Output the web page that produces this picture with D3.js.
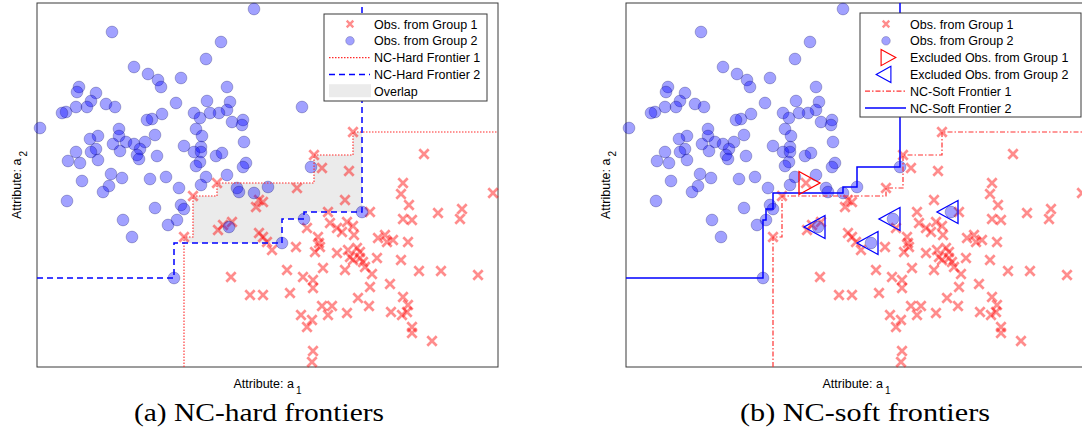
<!DOCTYPE html>
<html>
<head>
<meta charset="utf-8">
<script src="https://cdn.jsdelivr.net/npm/d3@7"></script>
<style>
body { margin: 0; background: #fff; }
text { font-family: "Liberation Sans", Arial, sans-serif; fill: #000; }
</style>
</head>
<body>
<script>
//observations of group 1 (red crosses), [a1, a2]
var group1 = [
    [316,235],[387,213],[277,212],[285,199],[312,196],[366,184],[364,173],[260,179],[456,174],[308,167],
    [180,184],[156,171],[222,167],[219,160],[226,165],[181,137],[186,142],[195,145],[222,134],[226,130],
    [230,125],[147,130],[194,90],[213,72],[226,72],[372,162],[333,155],[291,155],[366,148],[375,147],
    [401,154],[425,158],[423,148],[270,139],[293,144],[300,139],[305,135],[310,145],[316,141],[317,132],
    [281,130],[282,124],[259,120],[235,117],[278,115],[283,120],[300,114],[311,117],[320,119],[323,115],
    [313,110],[316,107],[323,109],[326,105],[328,100],[341,129],[348,132],[350,125],[356,127],[371,125],
    [340,109],[364,107],[250,97],[286,99],[308,97],[335,93],[382,96],[404,96],[441,92],[266,90],
    [276,87],[276,79],[253,74],[333,80],[353,83],[321,69],[332,61],[366,70],[371,62],[370,55],
    [285,61],[295,61],[291,52],[264,52],[310,54],[354,55],[365,52],[275,47],[270,40],[375,40],
    [375,34],[395,26],[276,16],[275,5]
];
//observations of group 2 (blue circles)
var group2 = [
    [217,358],[75,335],[184,325],[169,308],[97,300],[111,293],[121,287],[124,280],[144,289],[190,280],
    [42,280],[40,275],[59,274],[54,266],[50,260],[39,260],[29,255],[25,254],[69,263],[78,260],
    [139,264],[170,266],[193,265],[190,257],[182,254],[173,254],[157,254],[163,249],[125,253],[115,248],
    [110,247],[3,239],[82,238],[61,231],[53,228],[82,231],[89,225],[76,223],[83,216],[59,218],
    [54,215],[39,215],[31,206],[43,204],[61,207],[97,223],[108,225],[103,218],[100,212],[102,208],
    [118,232],[120,211],[147,221],[159,238],[165,231],[164,220],[157,215],[164,215],[163,205],[159,201],
    [179,211],[185,214],[207,225],[206,247],[205,242],[195,245],[209,204],[206,200],[190,192],[169,190],
    [164,182],[142,179],[129,190],[113,188],[85,189],[74,193],[72,181],[66,175],[45,186],[30,166],
    [200,179],[202,175],[217,174],[231,180],[118,159],[144,162],[147,158],[140,147],[131,142],[86,147],
    [95,130],[192,140],[137,89],[265,260],[274,200],[267,148],[325,155],[245,124]
];
//frontier points (corners of the staircases)
var hardFrontier1 = [[147,130],[156,171],[180,184],[277,212],[316,235]];
var hardFrontier2 = [[137,89],[245,124],[267,148],[325,155]];
var softFrontier1 = [[147,130],[156,171],[260,179],[277,212],[316,235]];
var softFrontier2 = [[137,89],[140,147],[147,158],[217,174],[231,180],[274,200]];
//observations left out by the soft frontiers
var excluded1 = [[180,184]];
var excluded2 = [[192,140],[245,124],[267,148],[325,155]];

var legendA = ["Obs. from Group 1", "Obs. from Group 2", "NC-Hard Frontier 1", "NC-Hard Frontier 2", "Overlap"];
var legendB = ["Obs. from Group 1", "Obs. from Group 2", "Excluded Obs. from Group 1",
    "Excluded Obs. from Group 2", "NC-Soft Frontier 1", "NC-Soft Frontier 2"];
var captions = ["(a) NC-hard frontiers", "(b) NC-soft frontiers"];
var xDomain = [0, 461], yDomain = [0, 364];

var w = 1082, h = 434;
var plotW = 461, plotH = 364, plotTop = 3;

var svg = d3.select("body")
    .append("svg")
    .attr("width", w)
    .attr("height", h);

var x = d3.scaleLinear().domain(xDomain).range([0, plotW]);
var y = d3.scaleLinear().domain(yDomain).range([plotH, 0]);

var crossPath = "M-4.7,-4.7L4.7,4.7M-4.7,4.7L4.7,-4.7";
var triRight = "M-7,-11.5L14,0L-7,11.5Z";
var triLeft = "M7,-11.5L-14,0L7,11.5Z";

var line = d3.line().x(function(d){ return x(d[0]); }).y(function(d){ return y(d[1]); });

//staircase for group 1: region to the right and below
function frontierDown(pts){
    var p = [[pts[0][0], yDomain[0]]].concat(pts, [[xDomain[1], pts[pts.length - 1][1]]]);
    return line.curve(d3.curveStepAfter)(p);
}
//staircase for group 2: region to the left and above
function frontierUp(pts){
    var p = [[xDomain[0], pts[0][1]]].concat(pts, [[pts[pts.length - 1][0], yDomain[1]]]);
    return line.curve(d3.curveStepBefore)(p);
}
//grey area between both hard frontiers
function overlapPath(f1, f2){
    var xs = f1.map(function(d){ return d[0]; }).concat(f2.map(function(d){ return d[0]; }))
        .sort(function(a, b){ return a - b; });
    var p = d3.path();
    for (var i = 0; i < xs.length - 1; i++){
        var a = xs[i], b = xs[i + 1];
        if (b <= a) continue;
        var m = (a + b) / 2;
        var left = f1.filter(function(d){ return d[0] <= m; });
        var right = f2.filter(function(d){ return d[0] >= m; });
        if (!left.length || !right.length) continue;
        var hi = left[left.length - 1][1], lo = right[0][1];
        if (hi > lo) p.rect(x(a), y(hi), x(b) - x(a), y(lo) - y(hi));
    }
    return p.toString();
}

var panels = [
    { left: 37, hard: true, legend: legendA, box: [287, 11, 163, 87], cap: 259 },
    { left: 626, hard: false, legend: legendB, box: [234, 10, 221, 104], cap: 865 }
];

panels.forEach(function(pn, k){
    var g = svg.append("g").attr("transform", "translate(" + pn.left + "," + plotTop + ")");

    //axes box
    g.append("rect")
        .attr("width", plotW)
        .attr("height", plotH)
        .style("fill", "none")
        .style("stroke", "#3a3a3a")
        .style("stroke-width", 1);

    if (pn.hard){
        g.append("path")
            .attr("d", overlapPath(hardFrontier1, hardFrontier2))
            .style("fill", "#ebebeb");
    }

    g.selectAll(".cross")
        .data(group1)
        .enter()
        .append("path")
        .attr("class", "cross")
        .attr("transform", function(d){ return "translate(" + x(d[0]) + "," + y(d[1]) + ")"; })
        .attr("d", crossPath)
        .style("fill", "none")
        .style("stroke", "rgba(255,0,0,0.45)")
        .style("stroke-width", 2.7);

    g.selectAll(".dot")
        .data(group2)
        .enter()
        .append("circle")
        .attr("class", "dot")
        .attr("cx", function(d){ return x(d[0]); })
        .attr("cy", function(d){ return y(d[1]); })
        .attr("r", 5.9)
        .style("fill", "rgba(0,0,255,0.37)")
        .style("stroke", "rgba(20,20,90,0.35)")
        .style("stroke-width", 0.8);

    if (pn.hard){
        g.append("path")
            .attr("d", frontierDown(hardFrontier1))
            .style("fill", "none")
            .style("stroke", "#ff2a2a")
            .style("stroke-width", 1.1)
            .style("stroke-dasharray", "1.5,1.5");
        g.append("path")
            .attr("d", frontierUp(hardFrontier2))
            .style("fill", "none")
            .style("stroke", "#0000ff")
            .style("stroke-width", 1.5)
            .style("stroke-dasharray", "6,4");
    } else {
        g.append("path")
            .attr("d", frontierDown(softFrontier1))
            .style("fill", "none")
            .style("stroke", "#ff3333")
            .style("stroke-width", 1.2)
            .style("stroke-dasharray", "5,2,1.5,2");
        g.append("path")
            .attr("d", frontierUp(softFrontier2))
            .style("fill", "none")
            .style("stroke", "#0000ff")
            .style("stroke-width", 1.5);
        g.selectAll(".ex1")
            .data(excluded1)
            .enter()
            .append("path")
            .attr("transform", function(d){ return "translate(" + x(d[0]) + "," + y(d[1]) + ")"; })
            .attr("d", triRight)
            .style("fill", "none")
            .style("stroke", "#ff0000")
            .style("stroke-width", 1.3);
        g.selectAll(".ex2")
            .data(excluded2)
            .enter()
            .append("path")
            .attr("transform", function(d){ return "translate(" + x(d[0]) + "," + y(d[1]) + ")"; })
            .attr("d", triLeft)
            .style("fill", "none")
            .style("stroke", "#0000ff")
            .style("stroke-width", 1.3);
    }

    //legend
    var b = pn.box;
    var lg = g.append("g").attr("class", "legend");
    lg.append("rect")
        .attr("x", b[0]).attr("y", b[1])
        .attr("width", b[2]).attr("height", b[3])
        .style("fill", "#fff")
        .style("stroke", "#3a3a3a")
        .style("stroke-width", 1);
    var sx = b[0] + 26, rowY = function(i){ return 21 + i * 16.8; };
    pn.legend.forEach(function(label, i){
        var ry = rowY(i);
        var kind = pn.hard ? ["cross", "dot", "dotted", "dashed", "area"][i]
                           : ["cross", "dot", "triR", "triL", "dashdot", "solid"][i];
        if (kind == "cross"){
            lg.append("path").attr("transform", "translate(" + sx + "," + ry + ") scale(0.7)")
                .attr("d", crossPath).style("fill", "none")
                .style("stroke", "rgba(255,0,0,0.45)").style("stroke-width", 3.4);
        } else if (kind == "dot"){
            lg.append("circle").attr("cx", sx).attr("cy", ry).attr("r", 4.3)
                .style("fill", "rgba(0,0,255,0.37)").style("stroke", "rgba(20,20,90,0.35)").style("stroke-width", 0.7);
        } else if (kind == "triR" || kind == "triL"){
            lg.append("path").attr("transform", "translate(" + sx + "," + ry + ") scale(0.7)")
                .attr("d", kind == "triR" ? triRight : triLeft).style("fill", "none")
                .style("stroke", kind == "triR" ? "#ff0000" : "#0000ff").style("stroke-width", 1.6);
        } else if (kind == "area"){
            lg.append("rect").attr("x", sx - 21).attr("y", ry - 7).attr("width", 42).attr("height", 13)
                .style("fill", "#ebebeb");
        } else {
            var ln = lg.append("line").attr("x1", sx - 21).attr("x2", sx + 20)
                .attr("y1", ry).attr("y2", ry).style("fill", "none");
            if (kind == "dotted") ln.style("stroke", "#ff2a2a").style("stroke-width", 1.1).style("stroke-dasharray", "1.5,1.5");
            if (kind == "dashed") ln.style("stroke", "#0000ff").style("stroke-width", 1.5).style("stroke-dasharray", "6,4");
            if (kind == "dashdot") ln.style("stroke", "#ff3333").style("stroke-width", 1.2).style("stroke-dasharray", "5,2,1.5,2");
            if (kind == "solid") ln.style("stroke", "#0000ff").style("stroke-width", 1.5);
        }
        lg.append("text")
            .attr("x", sx + 24)
            .attr("y", ry + 4.5)
            .style("font-size", "12.5px")
            .text(label);
    });

    //axis titles
    var xl = svg.append("text")
        .attr("x", pn.left + plotW / 2)
        .attr("y", 388)
        .attr("text-anchor", "middle")
        .style("font-size", "12.5px");
    xl.append("tspan").text("Attribute: a");
    xl.append("tspan").attr("dx", 2).attr("dy", 6).style("font-size", "10px").text("1");

    var yl = svg.append("text")
        .attr("transform", "translate(" + (pn.left - 16) + "," + (plotTop + plotH / 2) + ") rotate(-90)")
        .attr("text-anchor", "middle")
        .style("font-size", "12.5px");
    yl.append("tspan").text("Attribute: a");
    yl.append("tspan").attr("dx", 2).attr("dy", 6).style("font-size", "10px").text("2");

    //sub-figure caption
    svg.append("text")
        .attr("x", pn.cap)
        .attr("y", 421)
        .attr("text-anchor", "middle")
        .attr("textLength", 250)
        .attr("lengthAdjust", "spacingAndGlyphs")
        .style("font-family", "'Liberation Serif', 'DejaVu Serif', serif")
        .style("font-size", "25px")
        .text(captions[k]);
});
</script>
</body>
</html>
